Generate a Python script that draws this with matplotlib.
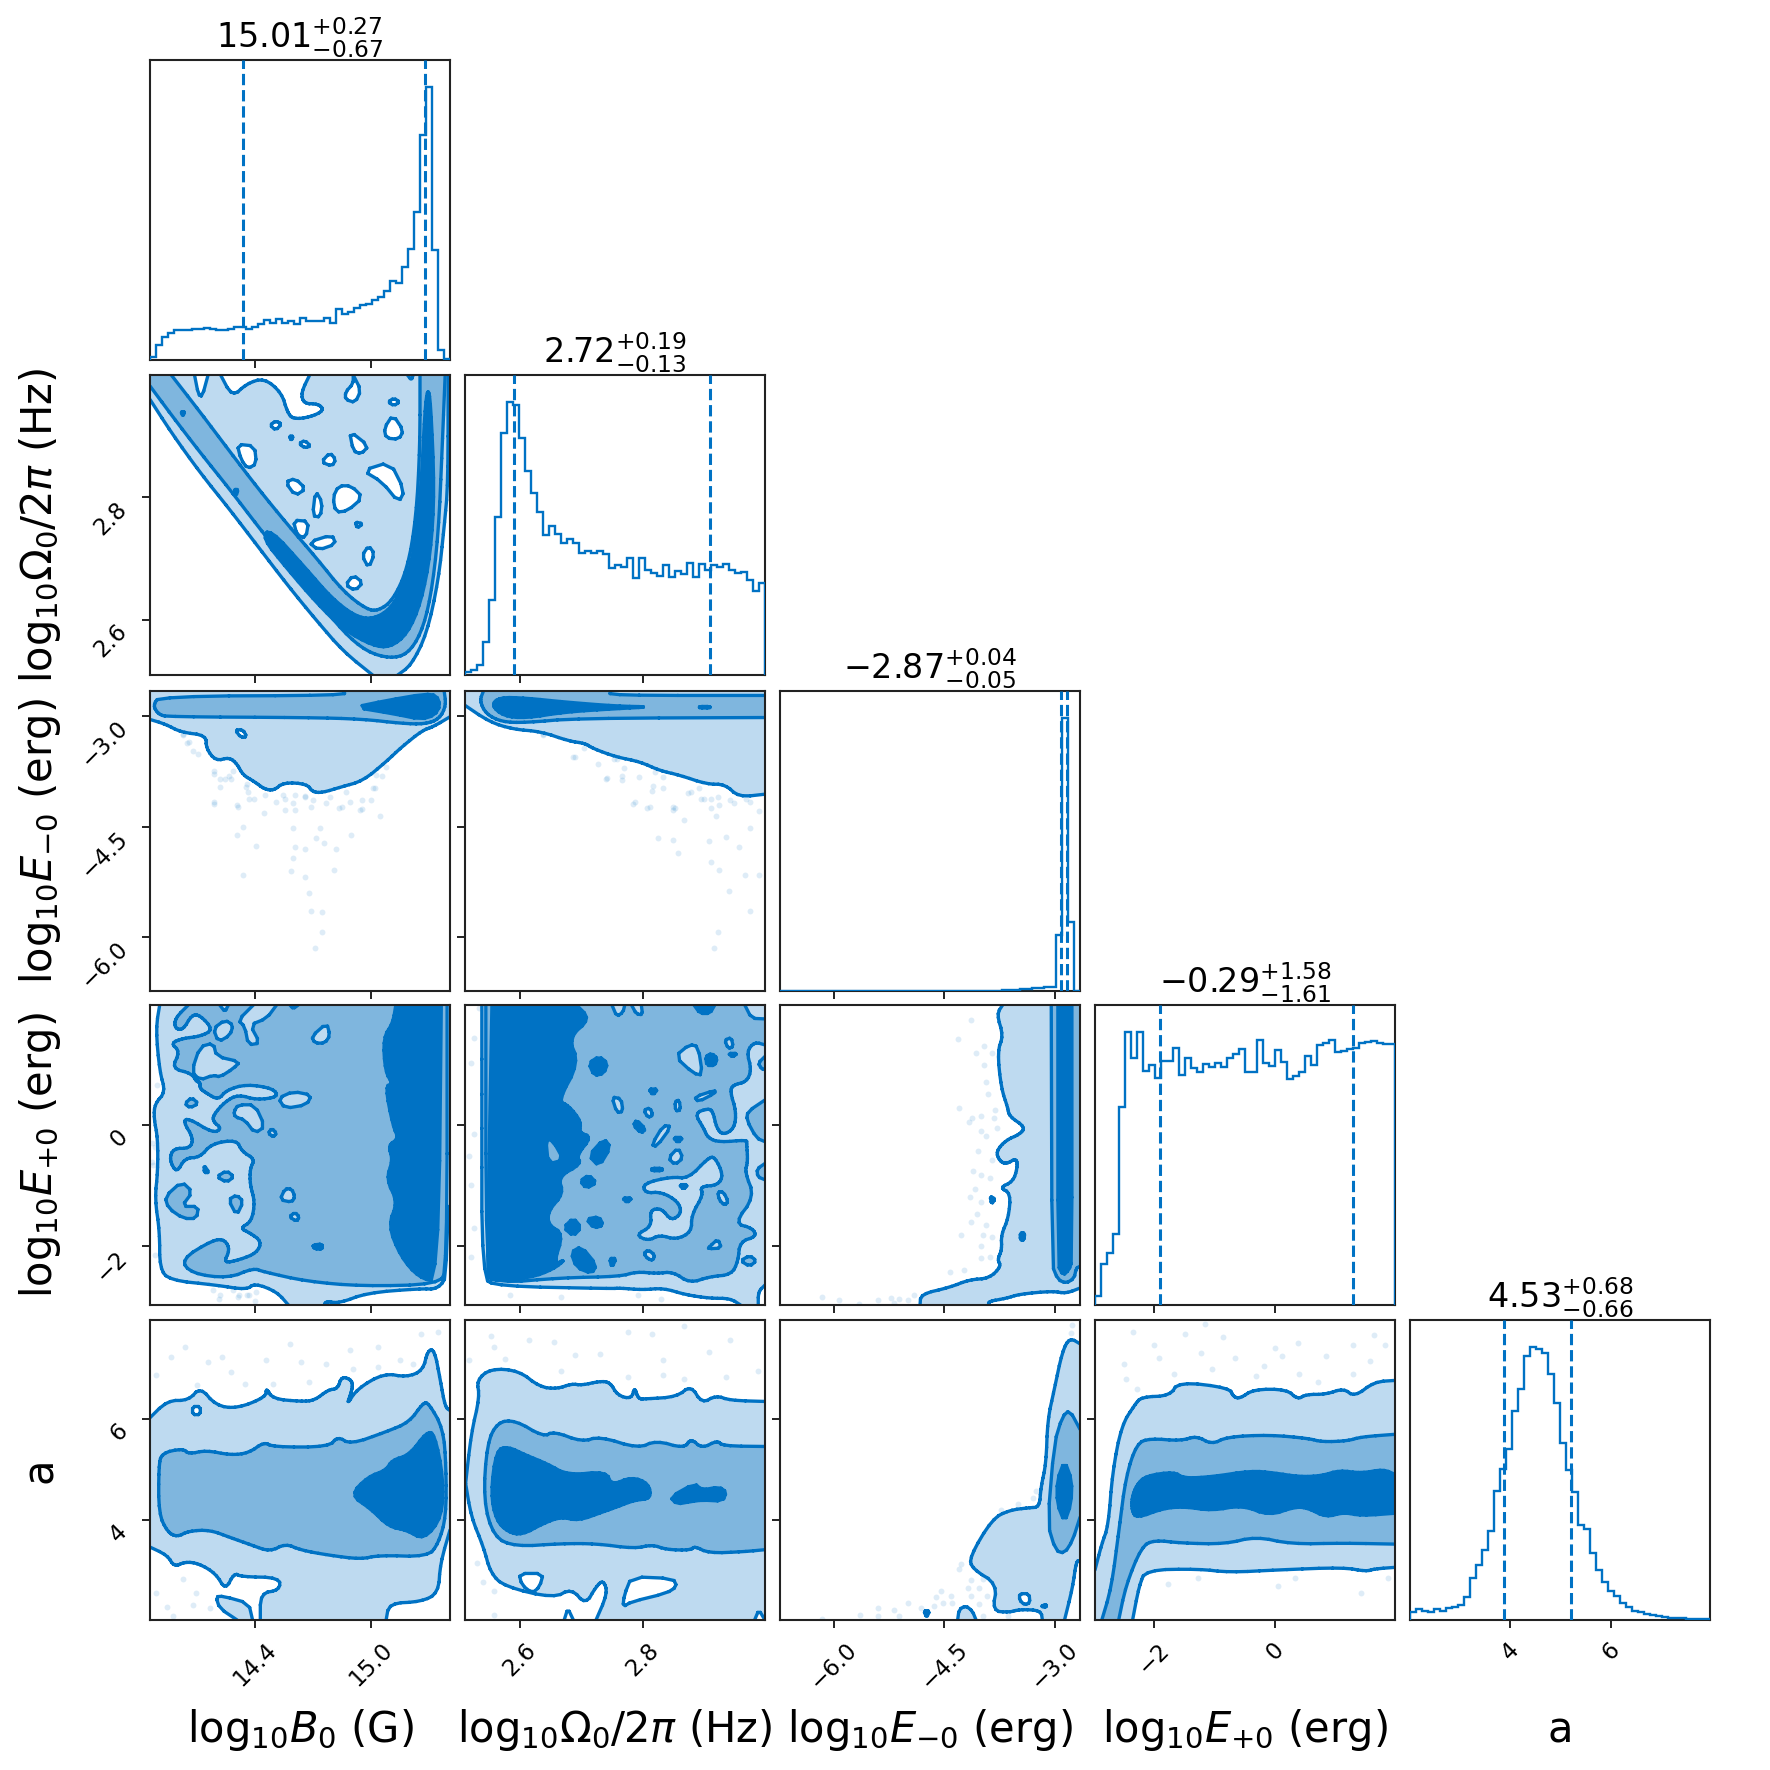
import numpy as np
import matplotlib
matplotlib.use("Agg")
import matplotlib.pyplot as plt

# ---- parameters -----------------------------------------------------------
labels = [r"$\mathrm{log}_{10}B_0$ (G)", r"$\mathrm{log}_{10}\Omega_0/2\pi$ (Hz)", r"$\mathrm{log}_{10}E_{-0}$ (erg)",
          r"$\mathrm{log}_{10}E_{+0}$ (erg)", "a"]
limits = [(13.86, 15.41), (2.51, 3.0), (-6.73, -2.66), (-2.97, 1.99), (2.02, 7.95)]
ticks = [[14.4, 15.0], [2.6, 2.8], [-6.0, -4.5, -3.0], [-2, 0], [4, 6]]
tick_text = [["14.4", "15.0"], ["2.6", "2.8"], ["\u22126.0", "\u22124.5", "\u22123.0"], ["\u22122", "0"], ["4", "6"]]
titles = [r"$15.01_{-0.67}^{+0.27}$", r"$2.72_{-0.13}^{+0.19}$", r"$-2.87_{-0.05}^{+0.04}$",
          r"$-0.29_{-1.61}^{+1.58}$", r"$4.53_{-0.66}^{+0.68}$"]
quantiles = [(14.34, 15.28), (2.59, 2.91), (-2.92, -2.83), (-1.90, 1.29), (3.87, 5.21)]

# ---- marginal histograms (relative counts per bin) -------------------------
hist_b = [6,34,51,61,67,68,68,70,69,71,69,68,68,69,75,73,70,73,81,89,82,91,83,88,81,93,88,87,87,94,82,114,104,108,116,124,126,134,141,155,176,173,209,249,331,504,611,246,23,3]
hist_om = [6,11,23,73,169,354,543,611,604,531,456,408,366,313,333,316,296,304,296,274,278,273,278,271,239,247,241,261,218,261,236,229,221,246,219,234,226,251,219,249,236,246,241,249,236,229,231,213,189,206]
hist_em = [0,0,0,0,0,0,0,0,0,0,0,0,0,0,0,0,0,0,0,0,0,0,0,0,0,0,0,0,0,0,0,0,0,0,0,1,1,2,3,4,5,6,8,9,11,13,167,818,208,1]
hist_ep = [17,80,100,137,382,527,477,527,452,464,439,472,472,497,444,477,457,451,465,459,467,459,477,485,495,451,451,512,467,462,492,470,437,442,451,482,463,502,507,512,489,491,495,497,507,509,510,507,505,505]
hist_a = [16,21,18,16,21,18,23,26,30,45,81,106,136,173,250,293,331,405,448,511,528,524,516,476,421,343,291,248,183,176,130,96,73,56,46,33,26,18,16,11,10,7,5,4,3,3,2,2,1,1]
hists = [hist_b, hist_om, hist_em, hist_ep, hist_a]

# ---- credible-region outlines: log Omega vs log B --------------------------
om_b_outer = [(13.86,3.0),(15.40,3.0),(15.40,2.822),(15.38,2.752),(15.35,2.664),(15.29,2.577),(15.21,2.526),(15.14,2.51),(15.01,2.51),(14.86,2.548),(14.72,2.599),(14.57,2.657),(14.42,2.719),(14.27,2.781),(14.12,2.84),(13.97,2.906),(13.86,2.96)]
om_b_mid = [(13.86,2.982),(13.97,2.935),(14.12,2.873),(14.27,2.814),(14.42,2.752),(14.57,2.692),(14.72,2.635),(14.86,2.58),(14.98,2.548),(15.10,2.537),(15.19,2.544),(15.26,2.577),(15.31,2.635),(15.35,2.738),(15.37,2.884),(15.385,3.0),(15.255,3.0),(15.255,2.884),(15.235,2.767),(15.19,2.683),(15.115,2.632),(15.04,2.615),(14.98,2.617),(14.86,2.646),(14.72,2.701),(14.57,2.756),(14.42,2.814),(14.27,2.876),(14.12,2.939),(13.97,3.0),(13.86,3.0)]
om_b_dark = [(14.44,2.734),(14.57,2.683),(14.72,2.628),(14.86,2.584),(15.01,2.558),(15.10,2.555),(15.19,2.577),(15.26,2.628),(15.31,2.708),(15.33,2.811),(15.31,2.957),(15.295,2.979),(15.28,2.942),(15.26,2.811),(15.22,2.701),(15.16,2.65),(15.10,2.617),(15.01,2.601),(14.92,2.606),(14.80,2.635),(14.66,2.686),(14.48,2.749)]
om_b_holes = [
    [(14.09,3.0),(14.11,2.968),(14.13,2.965),(14.16,3.0)],
    [(14.225,3.0),(14.285,2.964),(14.36,2.986),(14.45,2.995),(14.54,2.971),(14.57,2.939),(14.60,2.928),(14.685,2.931),(14.76,2.942),(14.73,2.953),(14.655,2.953),(14.64,2.971),(14.685,3.0)],
    [(14.91,3.0),(14.95,2.975),(14.92,2.955),(14.87,2.96),(14.87,2.972),(14.91,2.986)],
    [(15.19,3.0),(15.21,2.992),(15.22,3.0)],
    [(15.09,2.956),(15.12,2.962),(15.15,2.956),(15.12,2.95)],
    [(15.115,2.935),(15.17,2.909),(15.145,2.895),(15.08,2.897),(15.07,2.913)],
    [(14.48,2.918),(14.51,2.925),(14.54,2.92),(14.51,2.91)],
    [(14.63,2.888),(14.66,2.893),(14.69,2.884),(14.66,2.881)],
    [(14.31,2.887),(14.40,2.884),(14.41,2.855),(14.365,2.847),(14.33,2.862)],
    [(14.79,2.873),(14.82,2.862),(14.80,2.851),(14.745,2.858)],
    [(14.89,2.909),(14.99,2.884),(14.95,2.871),(14.91,2.876)],
    [(14.96,2.844),(15.10,2.858),(15.175,2.811),(15.145,2.792),(15.06,2.825)],
    [(14.56,2.825),(14.61,2.831),(14.665,2.814),(14.61,2.803)],
    [(14.715,2.811),(14.75,2.792),(14.74,2.768),(14.70,2.77)],
    [(14.835,2.819),(14.90,2.819),(14.96,2.80),(14.88,2.778),(14.82,2.776),(14.805,2.80)],
    [(14.92,2.76),(14.96,2.757),(14.93,2.75)],
    [(14.60,2.763),(14.68,2.761),(14.665,2.734),(14.62,2.738)],
    [(14.68,2.727),(14.80,2.739),(14.82,2.724),(14.73,2.714)],
    [(14.99,2.721),(15.02,2.708),(14.99,2.685),(14.955,2.705)],
    [(14.91,2.673),(14.96,2.661),(14.92,2.648),(14.87,2.657)],
]
om_b_specks = [
    [(14.02,2.94),(14.04,2.94),(14.03,2.933)],
    [(14.295,2.813),(14.315,2.813),(14.305,2.803)],
    [(14.58,2.90),(14.60,2.90),(14.59,2.893)],
]

# ---- log E-0 vs log B ------------------------------------------------------
em_b_outer = [(13.865,-3.05),(13.94,-3.11),(14.02,-3.22),(14.15,-3.26),(14.15,-3.44),(14.2,-3.61),(14.27,-3.56),(14.31,-3.65),(14.34,-3.80),(14.40,-3.89),(14.45,-3.99),(14.5,-4.01),(14.55,-3.90),(14.67,-3.92),(14.70,-4.03),(14.75,-4.04),(14.85,-3.96),(14.96,-3.88),(15.08,-3.62),(15.16,-3.42),(15.27,-3.19),(15.32,-3.15),(15.41,-3.01),(15.41,-2.664),(13.86,-2.664),(13.86,-3.02)]
em_b_mid = [(14.865,-2.664),(14.865,-2.72),(13.91,-2.73),(13.875,-2.855),(13.905,-2.98),(13.955,-3.01),(14.67,-3.02),(14.955,-3.04),(15.16,-3.10),(15.28,-3.11),(15.355,-3.04),(15.39,-2.855),(15.38,-2.664)]
em_b_dark = [(14.915,-2.88),(15.08,-2.79),(15.28,-2.70),(15.34,-2.72),(15.36,-2.855),(15.33,-2.99),(15.26,-3.045),(15.12,-2.97)]
em_b_hole = [(14.30,-3.19),(14.34,-3.185),(14.36,-3.28),(14.33,-3.29)]
em_b_pts = [(14.03,-3.24),(14.06,-3.35),(14.19,-3.75),(14.27,-3.81),(14.36,-3.92),(14.37,-4.12),(14.19,-4.17),(14.31,-4.21),(14.45,-4.32),(14.545,-4.07),(14.60,-4.18),(14.66,-4.09),(14.69,-4.24),(14.77,-4.18),(14.85,-4.24),(14.955,-4.26),(15.02,-3.98),(15.06,-3.81),(15.05,-4.35),(14.60,-4.52),(14.74,-4.52),(14.34,-4.51),(14.31,-4.62),(14.72,-4.65),(14.90,-4.61),(14.41,-4.76),(14.61,-4.78),(14.76,-4.72),(14.66,-4.81),(14.60,-4.92),(14.82,-4.81),(14.81,-5.09),(14.34,-5.16),(14.59,-5.10),(14.66,-5.18),(14.68,-5.40),(14.69,-5.65),(14.75,-5.66),(14.75,-5.93),(14.71,-6.15),
            (14.03,-3.26),(14.05,-3.37),(14.08,-3.48),(14.11,-3.51),(14.19,-3.78),(14.22,-3.85),(14.29,-3.74),(14.25,-3.85),(14.28,-3.85),(14.22,-3.96),(14.355,-3.96),(14.365,-4.03),(14.395,-4.12),(14.455,-4.07),(14.51,-4.16),(14.56,-4.12),(14.61,-4.07),(14.66,-4.10),(14.70,-4.14),(14.79,-4.10),(14.875,-4.03),(14.895,-4.16),(14.955,-4.14),(15.01,-3.98),(15.03,-3.80),(15.08,-3.69),(15.0,-4.14),(14.19,-4.19),(14.315,-4.23),(14.56,-4.28),(14.61,-4.28),(14.835,-4.25),(14.945,-4.28)]

# ---- log E-0 vs log Omega --------------------------------------------------
em_om_outer = [(2.51,-2.855),(2.55,-3.08),(2.589,-3.18),(2.634,-3.21),(2.68,-3.34),(2.706,-3.37),(2.719,-3.44),(2.757,-3.555),(2.796,-3.62),(2.828,-3.74),(2.86,-3.80),(2.905,-3.925),(2.935,-3.925),(2.957,-4.10),(3.0,-4.06),(3.0,-2.664),(2.51,-2.664)]
em_om_mid = [(2.54,-2.664),(2.534,-2.79),(2.544,-2.97),(2.57,-3.08),(2.609,-3.09),(2.692,-3.03),(3.0,-3.02),(3.0,-2.72),(2.747,-2.72),(2.747,-2.664)]
em_om_dark = [(2.553,-2.855),(2.566,-2.745),(2.609,-2.755),(2.673,-2.81),(2.757,-2.865),(2.816,-2.875),(2.757,-2.90),(2.673,-2.945),(2.609,-3.03),(2.573,-3.0)]
em_om_dark2 = [(2.893,-2.87),(2.91,-2.87),(2.91,-2.89),(2.893,-2.89)]
em_om_pts = [(2.637,-3.24),(2.687,-3.55),(2.758,-3.58),(2.742,-3.84),(2.767,-3.81),(2.817,-3.95),(2.787,-4.17),(2.812,-4.24),(2.85,-4.24),(2.875,-4.04),(2.90,-4.12),(2.925,-4.21),(2.95,-4.18),(2.99,-4.29),(2.867,-4.41),(2.92,-4.36),(2.975,-4.52),(2.825,-4.66),(2.85,-4.68),(2.858,-4.86),(2.908,-4.69),(2.937,-4.64),(2.912,-4.98),(2.958,-4.78),(2.968,-5.16),(2.925,-5.09),(2.941,-5.37),(2.976,-5.65),(2.923,-5.93),(2.917,-6.15),(2.99,-5.15),
             (2.637,-3.26),(2.689,-3.56),(2.705,-3.44),(2.727,-3.65),(2.753,-3.58),(2.769,-3.71),(2.74,-3.85),(2.766,-3.87),(2.795,-3.83),(2.821,-3.76),(2.834,-3.83),(2.815,-4.01),(2.834,-3.98),(2.785,-4.19),(2.853,-4.25),(2.879,-4.03),(2.895,-4.12),(2.911,-4.12),(2.924,-4.10),(2.943,-4.14),(2.975,-4.16),(2.892,-3.98),(2.808,-4.25),(2.911,-4.25),(2.969,-4.12),(2.85,-4.28)]

# ---- log E+0 vs log B ------------------------------------------------------
ep_b_outer = [(13.91,1.99),(13.89,1.60),(13.91,0.89),(13.94,0.55),(13.885,0.36),(13.88,0.12),(13.90,-0.21),(13.90,-0.77),(13.885,-1.21),(13.91,-1.76),(13.91,-2.36),(13.96,-2.56),(14.20,-2.64),(14.36,-2.72),(14.40,-2.61),(14.515,-2.75),(14.575,-2.97),(14.76,-2.97),(14.77,-2.91),(14.84,-2.94),(14.98,-2.77),(15.25,-2.70),(15.35,-2.71),(15.40,-2.45),(15.405,1.99)]
ep_b_mid = [(14.058,1.99),(13.989,1.77),(13.989,1.60),(14.032,1.58),(14.075,1.825),(14.118,1.825),(14.187,1.58),(14.118,1.47),(14.032,1.44),(13.967,1.36),(14.015,1.22),(13.972,0.94),(14.075,0.86),(14.101,0.72),(14.118,0.72),(14.118,0.61),(14.153,0.53),(14.213,0.42),(14.256,0.585),(14.359,0.68),(14.497,0.61),(14.523,0.47),(14.411,0.42),(14.316,0.51),(14.247,0.39),(14.187,0.17),(14.187,0.06),(14.23,-0.05),(14.187,-0.13),(14.058,0.12),(14.032,0.06),(14.084,-0.21),(14.067,-0.38),(13.98,-0.38),(13.96,-0.57),(13.998,-0.79),(14.04,-0.54),(14.118,-0.53),(14.179,-0.30),(14.308,-0.24),(14.334,-0.43),(14.402,-0.56),(14.377,-0.71),(14.377,-0.985),(14.402,-1.26),(14.385,-1.59),(14.325,-1.70),(14.377,-1.78),(14.437,-1.92),(14.411,-2.11),(14.325,-2.22),(14.239,-2.28),(14.273,-2.06),(14.247,-1.89),(14.187,-1.89),(14.018,-2.22),(14.075,-2.45),(14.265,-2.53),(14.394,-2.36),(14.445,-2.42),(14.669,-2.58),(14.955,-2.66),(15.35,-2.63),(15.395,-2.38),(15.395,1.99)]
ep_b_light = [
    [(14.316,1.74),(14.394,1.99),(14.514,1.99),(14.463,1.77),(14.377,1.66),(14.428,1.36),(14.368,1.33),(14.35,1.63)],
    [(14.523,0.45),(14.60,0.56),(14.695,0.50),(14.669,0.34),(14.557,0.28)],
    [(14.118,1.30),(14.187,1.36),(14.204,1.14),(14.325,1.05),(14.29,0.94),(14.222,0.80),(14.187,0.83),(14.118,0.75),(14.075,0.89)],
    [(14.187,1.60),(14.247,1.74),(14.29,1.66),(14.273,1.49),(14.213,1.38)],
    [(14.294,0.23),(14.316,0.34),(14.402,0.34),(14.454,-0.02),(14.402,-0.13),(14.35,0.09),(14.299,0.14)],
    [(14.22,1.99),(14.247,1.88),(14.265,1.99)],
    [(14.583,1.99),(14.60,1.93),(14.626,1.99)],
    [(14.695,1.47),(14.773,1.69),(14.79,1.49),(14.764,1.36),(14.712,1.36)],
    [(14.471,-0.13),(14.489,-0.05),(14.514,-0.13),(14.497,-0.19)],
    [(14.532,-1.23),(14.557,-1.05),(14.592,-1.05),(14.609,-1.18),(14.592,-1.27)],
    [(14.58,-1.51),(14.609,-1.44),(14.631,-1.51),(14.618,-1.59)],
]
ep_b_blobs = [
    [(14.04,0.36),(14.075,0.46),(14.11,0.36),(14.067,0.29)],
    [(14.204,-0.85),(14.256,-0.75),(14.294,-0.85),(14.256,-0.94)],
    [(14.265,-1.23),(14.308,-1.15),(14.342,-1.26),(14.308,-1.49)],
    [(13.937,-1.18),(14.024,-0.93),(14.08,-1.10),(14.024,-1.34),(14.11,-1.34),(14.101,-1.54),(14.032,-1.54),(13.955,-1.37)],
]
ep_b_specks = [
    [(14.14,-0.66),(14.165,-0.78),(14.14,-0.78)],
    [(14.70,-1.98),(14.75,-1.96),(14.75,-2.05),(14.71,-2.04)],
]
ep_b_dark = [(15.13,1.99),(15.115,1.69),(15.065,1.45),(15.075,0.89),(15.115,0.68),(15.075,0.65),(15.115,-0.01),(15.145,-0.22),(15.09,-0.33),(15.115,-0.57),(15.08,-0.89),(15.14,-1.27),(15.09,-1.65),(15.155,-2.17),(15.25,-2.52),(15.35,-2.59),(15.365,1.99)]
ep_b_pts = [(13.87,-0.29),(13.87,-0.61),(14.32,-2.80),(14.37,-2.80),(14.215,-2.87),(14.665,-2.91),(14.40,-2.91),(14.187,-2.72),(14.29,-2.72),(14.36,-2.80),(14.41,-2.75),(14.316,-2.83),(14.22,-2.80),(13.894,0.67),(13.886,-0.35),(13.877,-0.65),(13.886,-2.14)]

# ---- log E+0 vs log Omega --------------------------------------------------
ep_om_outer = [(2.5375,1.99),(2.5375,0.40),(2.5375,-2.52),(2.5625,-2.66),(2.75,-2.70),(2.763,-2.69),(2.80,-2.72),(2.834,-2.69),(2.87,-2.80),(2.91,-2.86),(2.943,-2.86),(2.96,-2.97),(2.989,-2.97),(2.989,-2.75),(3.0,-2.64),(3.0,1.99)]
ep_om_mid = [(2.544,1.99),(2.544,-2.38),(2.5625,-2.61),(2.667,-2.52),(2.763,-2.50),(2.79,-2.42),(2.823,-2.45),(2.85,-2.42),(2.877,-2.61),(2.91,-2.50),(2.945,-2.47),(2.956,-2.25),(2.959,-1.92),(2.986,-1.84),(2.98,-1.70),(2.95,-1.62),(2.983,-1.18),(2.967,-0.77),(2.972,-0.60),(2.97,-0.30),(2.97,-0.24),(2.926,-0.28),(2.907,-0.21),(2.90,-0.05),(2.885,0.20),(2.907,0.28),(2.915,0.23),(2.921,-0.05),(2.932,-0.16),(2.95,-0.05),(2.953,0.23),(2.943,0.56),(2.948,0.67),(2.97,0.72),(2.978,0.92),(2.97,1.22),(2.983,1.38),(3.0,1.33),(3.0,1.99)]
ep_om_light = [
    [(2.853,1.14),(2.877,1.34),(2.891,1.30),(2.898,0.83),(2.883,0.86)],
    [(2.934,1.41),(2.945,1.45),(2.948,1.30),(2.94,1.27)],
    [(2.75,0.47),(2.765,0.44),(2.768,0.23),(2.758,0.21)],
    [(2.885,0.47),(2.918,0.58),(2.918,0.53),(2.891,0.39)],
    [(2.802,0.25),(2.812,0.29),(2.817,0.17),(2.809,0.13)],
    [(2.853,0.39),(2.86,0.42),(2.862,0.25),(2.854,0.24)],
    [(2.815,-0.32),(2.834,0.0),(2.847,-0.02),(2.823,-0.35)],
    [(2.842,-0.54),(2.858,-0.37),(2.866,-0.54),(2.853,-0.65)],
    [(2.801,-0.96),(2.847,-0.85),(2.875,-0.88),(2.907,-0.54),(2.918,-0.52),(2.932,-0.82),(2.923,-0.99),(2.894,-1.01),(2.899,-1.15),(2.88,-1.48),(2.88,-1.76),(2.855,-1.89),(2.828,-1.81),(2.809,-1.91),(2.789,-1.81),(2.815,-1.67),(2.812,-1.40),(2.831,-1.37),(2.847,-1.58),(2.864,-1.45),(2.858,-1.26),(2.831,-1.10),(2.804,-1.12)],
    [(2.923,-1.10),(2.932,-1.10),(2.94,-1.26),(2.934,-1.32),(2.925,-1.23)],
    [(2.802,-2.12),(2.809,-2.06),(2.82,-2.14),(2.817,-2.23),(2.809,-2.21)],
    [(2.91,-2.0),(2.923,-1.88),(2.929,-2.03),(2.907,-2.04)],
    [(2.75,1.99),(2.758,1.80),(2.768,1.87),(2.771,1.99)],
    [(2.782,1.99),(2.79,1.84),(2.80,1.83),(2.798,1.99)],
    [(2.967,1.99),(2.978,1.77),(3.0,1.76),(3.0,1.99)],
]
ep_om_blobs = [
    [(3.0,0.42),(2.972,0.23),(2.97,0.09),(2.986,-0.21),(3.0,-0.27)],
    [(3.0,1.14),(2.989,1.03),(2.994,0.94),(3.0,0.92)],
    [(3.0,-0.63),(2.987,-0.72),(2.988,-0.85),(3.0,-0.90)],
    [(2.96,-2.24),(2.975,-2.15),(2.986,-2.24),(2.975,-2.33)],
]
ep_om_dark = [(2.554,1.99),(2.692,1.99),(2.715,1.76),(2.679,1.45),(2.696,1.03),(2.662,0.40),(2.679,0.33),(2.70,0.06),(2.696,-0.12),(2.717,-0.19),(2.692,-0.50),(2.70,-0.64),(2.662,-0.85),(2.671,-1.13),(2.646,-1.41),(2.646,-1.65),(2.671,-1.79),(2.654,-2.31),(2.675,-2.21),(2.654,-2.38),(2.617,-2.52),(2.55,-2.59),(2.546,-2.38)]
ep_om_dark_hole = [(2.642,-0.22),(2.654,-0.26),(2.671,-0.57),(2.646,-0.64)]
ep_om_isles = [
    [(2.712,1.03),(2.729,1.14),(2.743,1.03),(2.737,0.86),(2.721,0.82)],
    [(2.712,-0.50),(2.737,-0.22),(2.748,-0.36),(2.729,-0.68)],
    [(2.785,0.0),(2.79,0.09),(2.805,-0.06),(2.798,-0.13)],
    [(2.698,-0.92),(2.712,-0.82),(2.725,-0.95),(2.708,-1.04)],
    [(2.671,-1.69),(2.687,-1.53),(2.70,-1.69),(2.687,-1.83)],
    [(2.708,-1.55),(2.729,-1.51),(2.736,-1.65),(2.721,-1.70)],
    [(2.683,-2.10),(2.70,-2.0),(2.725,-2.31),(2.717,-2.45),(2.692,-2.35)],
    [(2.746,-2.20),(2.757,-2.20),(2.75,-2.35)],
    [(2.884,1.99),(2.918,1.99),(2.91,1.85),(2.894,1.85)],
    [(2.903,1.14),(2.913,1.19),(2.922,1.11),(2.918,0.99),(2.905,0.99)],
    [(2.767,-1.20),(2.783,-1.20),(2.775,-1.28)],
    [(2.81,0.60),(2.825,0.60),(2.817,0.50)],
    [(2.94,1.19),(2.955,1.19),(2.947,1.13)],
    [(2.85,-0.20),(2.866,-0.20),(2.858,-0.29)],
    [(2.86,-0.98),(2.874,-0.98),(2.867,-1.06)],
    [(2.815,-0.71),(2.832,-0.71),(2.832,-0.75),(2.815,-0.75)],
]
ep_om_pts = [(2.525,1.45),(2.533,1.94),(2.52,1.03),(2.525,-0.15),(2.517,-0.50),(2.52,-0.99),(2.525,-1.69),(2.52,-2.17),(2.583,-2.80),(2.667,-2.84),(2.792,-2.80),(2.83,-2.87)]

# ---- log E+0 vs log E-0 ----------------------------------------------------
ep_em_outer = [(-3.71,1.99),(-3.79,1.84),(-3.70,1.48),(-3.78,1.23),(-3.73,0.62),(-3.64,0.29),(-3.62,0.15),(-3.40,-0.03),(-3.48,-0.15),(-3.66,-0.24),(-3.80,-0.43),(-3.75,-0.59),(-3.66,-0.64),(-3.52,-0.54),(-3.51,-0.71),(-3.57,-0.93),(-3.75,-1.03),(-3.60,-1.12),(-3.63,-1.53),(-3.73,-1.81),(-3.72,-2.06),(-3.78,-2.22),(-3.73,-2.33),(-3.89,-2.53),(-4.16,-2.55),(-4.43,-2.68),(-4.82,-2.79),(-4.83,-2.97),(-3.90,-2.97),(-3.90,-2.91),(-3.66,-2.86),(-3.48,-2.79),(-3.03,-2.74),(-2.85,-2.78),(-2.66,-2.69),(-2.66,1.99)]
ep_em_mid = [(-3.05,1.99),(-3.04,-2.31),(-2.96,-2.55),(-2.85,-2.61),(-2.74,-2.53),(-2.71,-2.36),(-2.66,-2.33),(-2.66,1.99)]
ep_em_dark = [(-2.96,1.99),(-2.96,-2.31),(-2.89,-2.48),(-2.81,-2.39),(-2.77,-2.25),(-2.77,1.99)]
ep_em_dots = [[(-3.88,-1.17),(-3.81,-1.22),(-3.86,-1.30)], [(-3.47,-1.78),(-3.41,-1.78),(-3.42,-1.90),(-3.47,-1.89)]]
ep_em_pts = [(-4.14,1.75),(-4.32,1.43),(-3.96,1.31),(-4.07,1.20),(-3.85,1.20),(-3.96,0.99),(-3.94,0.72),(-3.91,0.52),(-3.81,0.26),(-4.30,0.28),(-4.12,0.12),(-4.0,0.15),(-4.17,0.05),(-3.82,0.12),(-4.0,-0.10),(-3.78,-0.04),(-3.94,-0.18),(-4.04,-0.43),(-3.85,-0.57),(-4.11,-0.75),(-4.0,-0.82),(-3.88,-0.87),(-4.08,-1.06),(-4.15,-1.19),(-4.0,-1.26),(-4.06,-1.47),(-4.14,-1.60),(-3.94,-1.64),(-4.27,-1.81),(-3.98,-1.82),(-3.85,-1.84),(-4.0,-1.99),(-3.88,-2.17),(-4.0,-2.20),(-4.23,-2.39),(-4.42,-2.43),(-6.16,-2.83),(-5.93,-2.89),(-5.66,-2.95),(-5.40,-2.89),(-5.22,-2.86),(-5.11,-2.87),(-5.0,-2.89),(-4.91,-2.81),(-5.18,-2.93)]

# ---- a vs log B ------------------------------------------------------------
a_b_outer = [(13.855,6.0),(13.95,6.36),(14.06,6.36),(14.12,6.625),(14.20,6.26),(14.31,6.20),(14.46,6.43),(14.46,6.61),(14.495,6.39),(14.64,6.34),(14.71,6.36),(14.78,6.57),(14.83,6.59),(14.85,6.84),(14.905,6.76),(14.905,6.57),(14.875,6.26),(14.93,6.59),(15.07,6.90),(15.185,6.82),(15.27,6.95),(15.295,7.35),(15.33,7.36),(15.36,6.76),(15.385,6.23),(15.41,6.16),(15.41,3.80),(15.36,3.14),(15.35,2.55),(15.26,2.38),(15.095,2.35),(15.08,2.02),(14.43,2.02),(14.43,2.55),(14.53,2.61),(14.53,2.86),(14.33,2.875),(14.295,2.95),(14.25,2.61),(14.20,2.94),(14.11,3.14),(14.04,3.17),(13.985,3.07),(13.95,3.30),(13.855,3.47)]
a_b_mid = [(13.92,5.32),(14.03,5.41),(14.06,5.30),(14.15,5.375),(14.275,5.28),(14.37,5.32),(14.45,5.54),(14.495,5.44),(14.785,5.44),(14.83,5.65),(14.895,5.49),(15.08,5.74),(15.20,5.93),(15.27,6.31),(15.30,6.31),(15.375,5.80),(15.39,5.05),(15.39,4.06),(15.35,3.53),(15.295,3.27),(15.04,3.30),(14.95,3.22),(14.785,3.30),(14.64,3.40),(14.56,3.53),(14.48,3.37),(14.385,3.50),(14.275,3.65),(14.17,3.80),(14.06,3.78),(14.0,3.66),(13.95,3.76),(13.905,4.125),(13.905,5.05)]
a_b_dark = [(14.895,4.49),(14.985,4.85),(15.08,4.98),(15.11,5.18),(15.20,5.28),(15.29,5.74),(15.33,5.70),(15.375,4.85),(15.37,4.06),(15.275,3.60),(15.185,3.80),(15.095,3.86),(15.0,4.22)]
a_b_hole = [(14.08,6.24),(14.12,6.24),(14.12,6.08),(14.08,6.08)]
a_b_blob = [(14.20,2.48),(14.24,2.49),(14.37,2.35),(14.39,2.02),(14.31,2.02),(14.22,2.25)]
a_b_pts = [(14.04,7.41),(13.97,7.22),(14.16,7.12),(14.23,7.22),(14.28,6.92),(14.46,7.15),(14.585,7.48),(14.64,7.12),(14.495,6.69),(14.35,6.69),(13.89,6.86),(14.77,7.09),(14.895,7.35),(15.04,7.41),(15.15,7.15),(15.26,7.68),(15.35,7.71),(15.22,7.09),(15.04,7.02),(14.91,6.99),(14.68,6.72),(14.105,6.66),(14.03,2.84),(14.10,2.55),(14.08,2.32),(13.95,2.28),(14.17,2.25),(13.89,2.55),(13.98,2.09)]

# ---- a vs log Omega --------------------------------------------------------
a_om_outer = [(3.0,6.34),(2.943,6.36),(2.92,6.46),(2.897,6.30),(2.879,6.66),(2.856,6.43),(2.805,6.39),(2.793,6.39),(2.787,6.625),(2.782,6.39),(2.759,6.46),(2.747,6.72),(2.73,6.74),(2.701,6.66),(2.684,6.69),(2.661,6.59),(2.632,6.625),(2.598,6.95),(2.552,6.99),(2.529,6.76),(2.534,6.43),(2.52,5.70),(2.511,4.72),(2.52,4.06),(2.54,3.47),(2.552,2.94),(2.575,2.68),(2.655,2.45),(2.684,2.645),(2.707,2.32),(2.724,2.68),(2.736,2.81),(2.743,2.55),(2.724,2.02),(3.0,2.02)]
a_om_mid = [(3.0,5.45),(2.931,5.46),(2.922,5.57),(2.897,5.41),(2.879,5.61),(2.868,5.41),(2.822,5.57),(2.793,5.41),(2.73,5.65),(2.701,5.54),(2.655,5.75),(2.638,5.64),(2.592,5.97),(2.563,5.93),(2.546,5.51),(2.54,4.39),(2.557,3.66),(2.592,3.47),(2.667,3.53),(2.724,3.53),(2.787,3.43),(2.816,3.51),(2.839,3.41),(2.879,3.40),(2.885,3.48),(2.908,3.34),(2.966,3.37),(3.0,3.41)]
a_om_dark = [(2.552,4.52),(2.561,5.375),(2.58,5.45),(2.609,5.28),(2.644,5.11),(2.678,4.88),(2.741,4.96),(2.749,4.68),(2.782,4.85),(2.81,4.72),(2.814,4.42),(2.787,4.39),(2.759,4.26),(2.736,4.16),(2.695,3.98),(2.667,4.06),(2.638,3.93),(2.603,3.70),(2.58,3.76),(2.561,3.99)]
a_om_dark2 = [(2.845,4.45),(2.885,4.72),(2.897,4.59),(2.925,4.65),(2.937,4.55),(2.931,4.37),(2.897,4.39),(2.879,4.36),(2.856,4.31)]
a_om_holes = [
    [(2.598,2.94),(2.638,2.94),(2.632,2.68),(2.62,2.55),(2.603,2.71)],
    [(2.782,2.875),(2.85,2.84),(2.856,2.68),(2.839,2.55),(2.782,2.38),(2.768,2.28),(2.77,2.51)],
    [(2.672,2.02),(2.678,2.25),(2.687,2.02)],
    [(2.983,2.02),(2.99,2.22),(3.0,2.02)],
]
a_om_pts = [(2.552,7.64),(2.557,7.41),(2.615,7.55),(2.655,7.51),(2.776,7.71),(2.816,7.68),(2.868,7.84),(2.943,7.55),(2.908,7.32),(2.833,7.15),(2.73,7.28),(2.69,7.25),(2.667,6.95),(2.833,6.86),(2.868,6.79),(2.937,6.82),(2.989,6.95),(2.575,7.18),(2.517,7.15),(2.776,6.82),(2.529,3.14),(2.54,2.78),(2.557,2.59),(2.557,2.12)]

# ---- a vs log E-0 ----------------------------------------------------------
a_em_outer = [(-2.66,7.48),(-2.80,7.60),(-2.90,7.33),(-3.01,6.57),(-3.10,5.97),(-3.12,5.11),(-3.19,4.65),(-3.21,4.25),(-3.35,4.24),(-3.62,4.19),(-3.85,4.02),(-4.16,3.26),(-4.12,3.03),(-3.78,2.73),(-3.85,2.20),(-3.62,2.17),(-3.48,2.23),(-3.19,2.21),(-3.17,2.02),(-2.87,2.02),(-2.76,2.66),(-2.71,3.19),(-2.66,3.19)]
a_em_mid = [(-2.66,5.79),(-2.80,6.17),(-2.90,6.04),(-3.01,5.51),(-3.10,3.92),(-2.99,3.39),(-2.87,3.34),(-2.76,3.59),(-2.66,4.05)]
a_em_dark = [(-2.87,5.17),(-2.77,4.78),(-2.78,4.32),(-2.87,3.95),(-2.97,4.32),(-2.97,4.78)]
a_em_hole = [(-3.48,2.54),(-3.35,2.54),(-3.34,2.36),(-3.41,2.32),(-3.48,2.41)]
a_em_blob = [(-4.32,2.02),(-4.30,2.23),(-4.21,2.30),(-4.12,2.20),(-4.07,2.02)]
a_em_dots = [[(-4.78,2.20),(-4.70,2.20),(-4.74,2.07)], [(-3.19,2.29),(-3.12,2.33),(-3.12,2.27)]]
a_em_pts = [(-2.77,7.86),(-2.78,7.70),(-3.26,4.57),(-3.30,4.44),(-3.50,4.32),(-3.73,4.19),(-4.27,3.13),(-4.30,3.03),(-4.14,2.81),(-3.98,2.83),(-4.18,2.66),(-4.55,2.60),(-4.03,2.66),(-4.62,2.48),(-4.41,2.50),(-4.14,2.50),(-3.92,2.50),(-4.52,2.36),(-4.39,2.36),(-4.03,2.33),(-4.99,2.36),(-5.18,2.21),(-4.82,2.26),(-4.64,2.30),(-5.40,2.25),(-5.11,2.10),(-5.65,2.12),(-5.40,2.10),(-6.16,2.03),(-3.98,2.10),(-3.64,2.10)]

# ---- a vs log E+0 ----------------------------------------------------------
a_ep_outer = [(-2.97,3.01),(-2.86,3.52),(-2.75,3.88),(-2.68,4.95),(-2.53,5.87),(-2.31,6.28),(-2.20,6.43),(-1.73,6.45),(-1.59,6.73),(-0.75,6.61),(-0.68,6.43),(-0.57,6.40),(-0.35,6.58),(0.20,6.58),(0.38,6.38),(0.52,6.48),(0.85,6.48),(1.14,6.60),(1.32,6.43),(1.65,6.73),(1.985,6.755),(1.985,3.06),(1.65,3.03),(1.51,2.98),(1.14,3.06),(0.05,3.01),(-0.75,2.96),(-1.26,3.03),(-2.13,3.01),(-2.24,2.70),(-2.35,2.01),(-2.97,2.01)]
a_ep_mid = [(-2.86,2.01),(-2.70,2.65),(-2.57,3.83),(-2.46,4.85),(-2.28,5.51),(-2.06,5.61),(-1.55,5.56),(-1.29,5.66),(-1.04,5.49),(-0.79,5.64),(-0.09,5.68),(0.56,5.61),(0.78,5.54),(1.21,5.56),(1.43,5.64),(1.985,5.69),(1.985,3.52),(1.14,3.54),(0.27,3.52),(-0.31,3.67),(-0.82,3.52),(-1.55,3.54),(-1.99,3.60),(-2.20,3.47),(-2.46,2.70),(-2.58,2.01)]
a_ep_dark = [(-2.36,4.44),(-2.28,4.69),(-2.13,4.87),(-1.66,4.95),(-1.51,4.82),(-1.04,4.85),(-0.39,4.97),(-0.02,4.93),(0.41,4.85),(0.78,4.87),(1.07,4.98),(1.43,4.92),(1.80,5.0),(1.985,4.90),(1.985,4.13),(1.43,4.08),(1.14,4.15),(0.85,4.05),(0.56,4.23),(0.34,4.26),(-0.09,4.08),(-0.53,4.29),(-1.04,4.18),(-1.48,4.26),(-1.84,4.23),(-2.28,4.03),(-2.36,4.18)]
a_ep_pts = [(-2.35,7.72),(-1.48,7.67),(-1.15,7.87),(-0.86,7.62),(-2.49,7.09),(-1.99,7.45),(-1.22,7.30),(-1.91,7.19),(-0.65,7.19),(0.01,7.40),(0.12,7.24),(0.38,7.50),(0.85,7.24),(1.30,7.45),(1.65,7.65),(1.83,7.45),(1.58,7.14),(-0.31,6.84),(0.41,6.89),(0.71,6.73),(1.29,6.89),(-2.46,6.79),(-2.28,6.58),(-1.66,6.89),(-1.04,6.99),(-0.17,7.04),(-1.77,2.73),(-1.26,2.85),(0.05,2.70),(0.34,2.85),(1.43,2.55),(1.87,2.85)]

# ---- styles -----------------------------------------------------------------
BLUE = "#0072C4"
SHADES = {"white": "#FFFFFF", "light": "#BEDAF0", "mid": "#7FB6DE", "dark": BLUE}
plt.rcParams["font.family"] = "DejaVu Sans"
plt.rcParams["mathtext.fontset"] = "dejavusans"

fig = plt.figure(figsize=(17.7, 17.7), dpi=100, facecolor="white")
S = 1770.0
col_left = [150, 465, 780, 1095, 1410]
row_top = [60, 375, 691, 1005, 1320]
SIZE = 300


def make_axes(r, c):
    ax = fig.add_axes([col_left[c] / S, 1 - (row_top[r] + SIZE) / S, SIZE / S, SIZE / S])
    for s in ax.spines.values():
        s.set_linewidth(1.5)
        s.set_color("#222222")
    ax.tick_params(length=6, width=1.4, labelsize=16.5, color="#222222")
    ax.tick_params(axis="x", pad=7)
    ax.tick_params(axis="y", pad=7)
    return ax


def round_outline(xy, on_frame, passes):
    """Corner-cutting of the drawn outline; vertices lying on the panel frame stay put."""
    for _ in range(passes):
        out = []
        n = len(xy)
        for i in range(n):
            a, b = xy[i], xy[(i + 1) % n]
            out.append(a if on_frame(a) else 0.75 * a + 0.25 * b)
            out.append(b if on_frame(b) else 0.25 * a + 0.75 * b)
        xy = np.array(out)
    return xy


def region(ax, pts, shade):
    """Filled region; the outline is skipped where it runs along the panel frame."""
    (x0, x1), (y0, y1) = ax.get_xlim(), ax.get_ylim()
    tx, ty = 0.006 * (x1 - x0), 0.006 * (y1 - y0)

    def on_frame(p):
        return abs(p[0] - x0) < tx or abs(p[0] - x1) < tx or abs(p[1] - y0) < ty or abs(p[1] - y1) < ty

    xy = round_outline(np.array(pts, dtype=float), on_frame, 2 if len(pts) >= 10 else 1)
    ax.fill(xy[:, 0], xy[:, 1], color=SHADES[shade], lw=0, zorder=2)
    closed = np.vstack([xy, xy[:1]])
    ox, oy = [], []
    for a, b in zip(closed[:-1], closed[1:]):
        if any(abs(a[i] - v) < t and abs(b[i] - v) < t
               for i, v, t in ((0, x0, tx), (0, x1, tx), (1, y0, ty), (1, y1, ty))):
            continue
        ox += [a[0], b[0], np.nan]
        oy += [a[1], b[1], np.nan]
    ax.plot(ox, oy, color=BLUE, lw=2.4, solid_capstyle="round", zorder=2)


def points(ax, pts):
    xy = np.array(pts)
    ax.scatter(xy[:, 0], xy[:, 1], s=18, color=BLUE, alpha=0.13, lw=0, zorder=1)


panels = {
    (1, 0): ([(om_b_outer, "light"), (om_b_mid, "mid"), (om_b_dark, "dark")] + [(h, "white") for h in om_b_holes]
             + [(h, "dark") for h in om_b_specks], []),
    (2, 0): ([(em_b_outer, "light"), (em_b_hole, "white"), (em_b_mid, "mid"), (em_b_dark, "dark")], em_b_pts),
    (2, 1): ([(em_om_outer, "light"), (em_om_mid, "mid"), (em_om_dark, "dark"), (em_om_dark2, "dark")], em_om_pts),
    (3, 0): ([(ep_b_outer, "light"), (ep_b_mid, "mid")] + [(h, "light") for h in ep_b_light]
             + [(h, "mid") for h in ep_b_blobs] + [(h, "dark") for h in ep_b_specks] + [(ep_b_dark, "dark")], ep_b_pts),
    (3, 1): ([(ep_om_outer, "light"), (ep_om_mid, "mid")] + [(h, "light") for h in ep_om_light]
             + [(h, "mid") for h in ep_om_blobs]
             + [(ep_om_dark, "dark"), (ep_om_dark_hole, "mid")] + [(h, "dark") for h in ep_om_isles], ep_om_pts),
    (3, 2): ([(ep_em_outer, "light"), (ep_em_mid, "mid"), (ep_em_dark, "dark")] + [(h, "dark") for h in ep_em_dots], ep_em_pts),
    (4, 0): ([(a_b_outer, "light"), (a_b_blob, "light"), (a_b_hole, "white"), (a_b_mid, "mid"), (a_b_dark, "dark")], a_b_pts),
    (4, 1): ([(a_om_outer, "light")] + [(h, "white") for h in a_om_holes]
             + [(a_om_mid, "mid"), (a_om_dark, "dark"), (a_om_dark2, "dark")], a_om_pts),
    (4, 2): ([(a_em_outer, "light"), (a_em_blob, "light"), (a_em_hole, "white"), (a_em_mid, "mid"), (a_em_dark, "dark")]
             + [(h, "dark") for h in a_em_dots], a_em_pts),
    (4, 3): ([(a_ep_outer, "light"), (a_ep_mid, "mid"), (a_ep_dark, "dark")], a_ep_pts),
}

for r in range(5):
    for c in range(r + 1):
        ax = make_axes(r, c)
        ax.set_xlim(limits[c])
        ax.set_xticks(ticks[c])
        if r == c:
            edges = np.linspace(limits[c][0], limits[c][1], len(hists[c]) + 1)
            ax.stairs(hists[c], edges, color=BLUE, lw=1.7, zorder=3)
            ax.set_ylim(0, 1.1 * max(hists[c]))
            ax.set_yticks([])
            for q in quantiles[c]:
                ax.axvline(q, color=BLUE, ls="--", lw=2.2, zorder=3)
            ax.set_title(titles[c], fontsize=24, pad=5)
        else:
            ax.set_ylim(limits[r])
            ax.set_yticks(ticks[r])
            shapes, pts = panels[(r, c)]
            if len(pts):
                points(ax, pts)
            for poly, shade in shapes:
                region(ax, poly, shade)
        if r == 4:
            ax.set_xticklabels(tick_text[c], rotation=45, ha="center", va="top")
            ax.set_xlabel(labels[c], fontsize=30, va="center")
            ax.xaxis.set_label_coords(0.5, -0.368)
        else:
            ax.set_xticklabels([])
        if c == 0 and r > 0:
            ax.set_yticklabels(tick_text[r], rotation=45, ha="right", va="top", rotation_mode="default")
            ax.set_ylabel(labels[r], fontsize=30, va="center")
            ax.yaxis.set_label_coords(-0.367, 0.5)
        elif r != c:
            ax.set_yticklabels([])

fig.savefig("out.png", dpi=100, facecolor="white")
